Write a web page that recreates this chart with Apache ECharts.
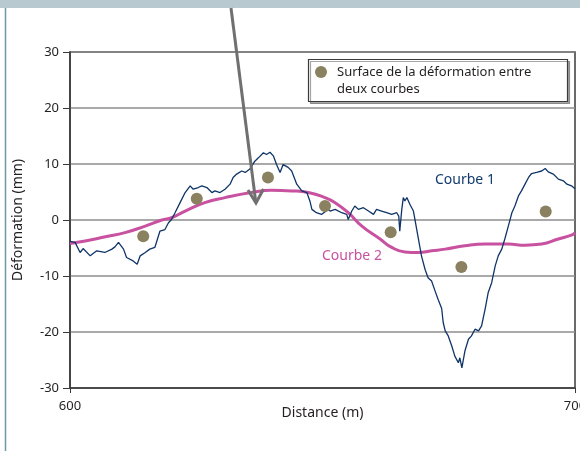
<!DOCTYPE html>
<html>
<head>
<meta charset="utf-8">
<script src="https://cdn.jsdelivr.net/npm/echarts@6/dist/echarts.min.js"></script>
<style>
  html, body { margin: 0; padding: 0; background: #fff; }
  #chart { width: 580px; height: 451px; }
</style>
</head>
<body>
<div id="chart"></div>
<script>
// Courbe 1 : mesure brute [distance (m), déformation (mm)]
const courbe1 = [
  [600, -3.8], [601, -4.0], [602, -5.8], [602.6, -5.1], [604, -6.4], [605.3, -5.5],
  [606.9, -5.8], [608.3, -5.2], [608.9, -4.8], [609.6, -4.0], [610.6, -5.2], [611.2, -6.7],
  [612.5, -7.3], [613.3, -7.9], [613.9, -6.4], [614.9, -5.8], [615.8, -5.2], [616.8, -4.9],
  [617.8, -2.0], [618.8, -1.7], [619.5, -0.5], [620.1, 0.1], [620.8, 1.3], [621.8, 3.1],
  [622.8, 4.9], [623.8, 6.1], [624.4, 5.5], [625.4, 5.8], [626.1, 6.1], [627.1, 5.8],
  [628.1, 4.9], [628.7, 5.2], [629.7, 4.9], [630.7, 5.5], [631.7, 6.4], [632.3, 7.6],
  [633.0, 8.2], [634.0, 8.75], [634.7, 8.5], [635.6, 9.1], [636.6, 10.5], [637.3, 11.1],
  [638.3, 12.0], [638.9, 11.7], [639.6, 12.1], [640.3, 11.4], [640.9, 9.9], [641.6, 8.5],
  [642.2, 9.9], [643.2, 9.4], [643.9, 8.75], [644.9, 6.4], [645.9, 5.2], [646.9, 4.9],
  [647.5, 3.4], [647.9, 1.9], [648.8, 1.3], [649.8, 1.0], [651.1, 1.9], [651.5, 1.6],
  [652.5, 1.9], [653.8, 1.3], [654.8, 1.0], [655.1, 0.1], [655.8, 1.6], [656.4, 2.5],
  [657.1, 1.9], [658.1, 2.2], [659.1, 1.6], [660.1, 1.0], [660.7, 1.9], [661.7, 1.6],
  [662.7, 1.3], [663.7, 1.0], [664.7, 1.3], [665.1, 0.7], [665.3, -2.0], [665.7, 1.9],
  [666.0, 4.0], [666.3, 3.4], [666.7, 4.0], [667.3, 2.8], [668.0, 1.6], [668.3, 0.1],
  [669.0, -3.4], [669.6, -6.4], [670.3, -8.8], [670.9, -10.3], [671.6, -10.9], [672.3, -12.7],
  [672.9, -14.2], [673.6, -15.8], [673.9, -18.3], [674.3, -19.8], [674.9, -20.7], [675.6, -22.5],
  [676.2, -24.3], [676.9, -25.5], [677.2, -24.6], [677.6, -26.4], [677.9, -24.9], [678.2, -23.4],
  [678.9, -21.3], [679.5, -20.7], [680.2, -19.5], [680.9, -19.8], [681.5, -18.9], [682.2, -15.9],
  [682.8, -13.0], [683.5, -11.2], [684.2, -8.2], [684.8, -6.4], [685.5, -5.2], [686.1, -3.4],
  [686.8, -1.1], [687.5, 1.3], [688.1, 2.5], [688.8, 4.3], [689.4, 5.2], [690.1, 6.4],
  [690.8, 7.6], [691.4, 8.3], [692.4, 8.5], [693.4, 8.75], [694.1, 9.2], [694.7, 8.6],
  [695.7, 8.2], [696.7, 7.3], [697.7, 7.0], [698.4, 6.4], [699.3, 6.1], [700, 5.6]
]

// Courbe 2 : courbe lissée
const courbe2 = [
  [600, -4.2], [603, -3.75], [607, -3.0], [610.9, -2.25], [614.9, -1.1], [618.2, 0],
  [620.1, 0.4], [622.8, 1.6], [626.7, 3.1], [630.7, 4.0], [635.9, 4.9], [639.9, 5.3],
  [643.9, 5.2], [647.2, 4.9], [650.5, 4.0], [652.5, 3.1], [655.1, 1.3], [657.8, -1.1],
  [661.4, -3.4], [663.7, -4.9], [666.3, -5.7], [669.0, -5.8], [671.6, -5.5], [674.3, -5.2],
  [678.2, -4.6], [682.2, -4.3], [686.8, -4.3], [690.1, -4.5], [693.4, -4.3], [696.7, -3.4],
  [699.3, -2.7], [700, -2.3]
]

// Surface de la déformation entre deux courbes
const surface = [
  [614.5, -2.9], [625.1, 3.8], [639.2, 7.6], [650.5, 2.5], [663.5, -2.2], [677.5, -8.4], [694.2, 1.5]
]

const xTicks = { min: 600, max: 700, interval: 100 }
const yTicks = { min: -30, max: 30, interval: 10 }

const legendText = 'Surface de la déformation entre\ndeux courbes'
const font = '"Noto Sans", sans-serif'
const textColor = '#231f20'

const chart = echarts.init(document.getElementById('chart'), null, { renderer: 'canvas' })

chart.setOption({
  animation: false,
  textStyle: { fontFamily: font, color: textColor },
  grid: {
    left: 70,
    right: 5,
    top: 52,
    bottom: 63,
    outerBoundsMode: 'none',
    containLabel: false,
    show: true,
    borderColor: '#3a3a3a',
    borderWidth: 1.5
  },
  xAxis: {
    type: 'value',
    min: xTicks.min,
    max: xTicks.max,
    interval: xTicks.interval,
    name: 'Distance (m)',
    nameLocation: 'middle',
    nameGap: 18,
    nameMoveOverlap: false,
    nameTextStyle: { fontSize: 14, color: textColor, fontFamily: font, verticalAlign: 'top' },
    axisLine: { onZero: false, lineStyle: { color: '#3a3a3a', width: 1.5 } },
    axisTick: { length: 5, lineStyle: { color: '#3a3a3a' } },
    axisLabel: { fontSize: 13, color: textColor, margin: 12, fontFamily: font, showMaxLabel: true },
    splitLine: { show: false }
  },
  yAxis: {
    type: 'value',
    min: yTicks.min,
    max: yTicks.max,
    interval: yTicks.interval,
    name: 'Déformation (mm)',
    nameLocation: 'middle',
    nameGap: 45,
    nameMoveOverlap: false,
    nameTextStyle: { fontSize: 14, color: textColor, fontFamily: font },
    axisLine: { show: true, onZero: false, lineStyle: { color: '#3a3a3a', width: 1.5 } },
    axisTick: { show: true, length: 7, lineStyle: { color: '#3a3a3a' } },
    axisLabel: { fontSize: 13, color: textColor, margin: 11, fontFamily: font },
    splitLine: { show: true, lineStyle: { color: '#8c8c8c', width: 1.5 } }
  },
  series: [
    {
      name: 'Courbe 2',
      type: 'line',
      data: courbe2,
      smooth: true,
      showSymbol: false,
      lineStyle: { color: '#c851a0', width: 3 },
      z: 2
    },
    {
      name: 'Courbe 1',
      type: 'line',
      data: courbe1,
      showSymbol: false,
      lineStyle: { color: '#0f3568', width: 1.3 },
      z: 3
    },
    {
      name: 'Surface',
      type: 'scatter',
      data: surface,
      symbolSize: 12,
      itemStyle: { color: '#8a8160', opacity: 1 },
      z: 4
    }
  ],
  graphic: [
    // cadre de la figure
    { type: 'rect', shape: { x: 0, y: 0, width: 580, height: 8 }, style: { fill: '#b9c9d0' }, z: 10 },
    { type: 'line', shape: { x1: 5.5, y1: 8, x2: 5.5, y2: 451 }, style: { stroke: '#6d97a3', lineWidth: 1.5 }, z: 10 },
    // légende
    {
      type: 'rect',
      shape: { x: 308.5, y: 59.5, width: 259, height: 42 },
      style: { fill: '#fff', stroke: '#3a3a3a', lineWidth: 1.2, shadowColor: 'rgba(0,0,0,0.35)', shadowOffsetX: 2, shadowOffsetY: 2 },
      z: 10
    },
    { type: 'circle', shape: { cx: 321, cy: 72, r: 6 }, style: { fill: '#8a8160' }, z: 11 },
    {
      type: 'text', x: 337, y: 64,
      style: { text: legendText, font: '13px ' + font, fill: textColor, lineHeight: 17 },
      z: 11
    },
    // étiquettes des courbes
    { type: 'text', x: 435, y: 173, style: { text: 'Courbe 1', font: '14px ' + font, fill: '#123a6e' }, z: 11 },
    { type: 'text', x: 322, y: 249, style: { text: 'Courbe 2', font: '14px ' + font, fill: '#c851a0' }, z: 11 },
    // flèche
    { type: 'line', shape: { x1: 231, y1: 8, x2: 255.5, y2: 200 }, style: { stroke: '#707070', lineWidth: 3 }, z: 12 },
    {
      type: 'polyline',
      shape: { points: [[248, 190], [256, 203], [263.5, 189]] },
      style: { stroke: '#707070', lineWidth: 3, fill: null },
      z: 12
    }
  ]
})
</script>
</body>
</html>
